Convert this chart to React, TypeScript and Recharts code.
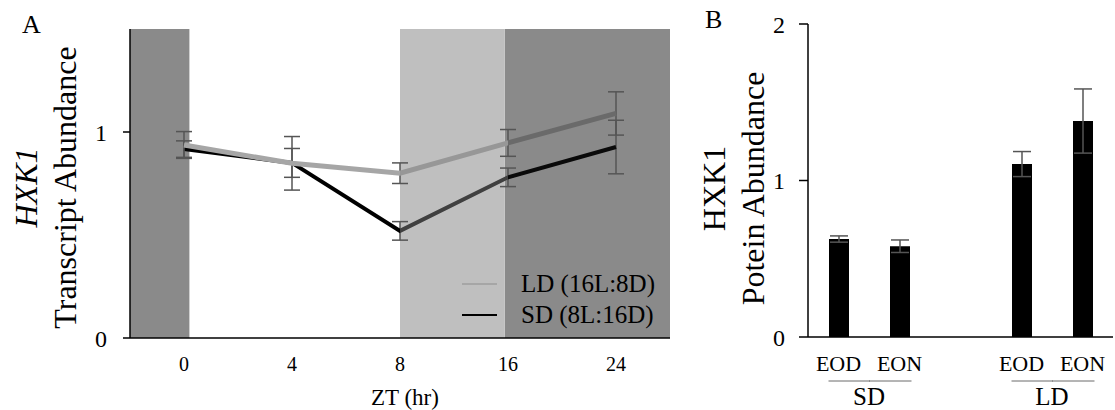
import React from "react";
import {
  LineChart,
  Line,
  XAxis,
  YAxis,
  ReferenceArea,
  ErrorBar,
  Legend,
  BarChart,
  Bar,
} from "recharts";

// ---------- Panel A data ----------
const ztLabels = ["0", "4", "8", "16", "24"];
const ldValues = [0.937, 0.848, 0.8, 0.947, 1.09];
const ldErrors = [0.065, 0.13, 0.05, 0.065, 0.105];
const sdValues = [0.917, 0.85, 0.52, 0.78, 0.927];
const sdErrors = [0.04, 0.07, 0.045, 0.045, 0.13];
const seriesNames = ["LD (16L:8D)", "SD (8L:16D)"];
// light/dark periods behind the curves (in ZT index units)
const darkPeriods = [
  [-0.5, 0.05],
  [2.97, 4.5],
];
const dimPeriods = [[2, 2.97]];

// ---------- Panel B data ----------
const barLabels = ["EOD", "EON", "", "EOD", "EON"];
const barValues = [0.626, 0.58, null, 1.105, 1.38];
const barErrors = [0.02, 0.04, null, 0.08, 0.205];
const groupLabels = ["SD", "LD"];
const groupStarts = [0, 3];

const FONT = "'Liberation Serif', 'Times New Roman', serif";

const lineData = ztLabels.map((label, i) => ({
  idx: i,
  label,
  ld: ldValues[i],
  ldErr: ldErrors[i],
  sd: sdValues[i],
  sdErr: sdErrors[i],
}));

const barData = barLabels.map((label, i) => ({
  key: i,
  label,
  value: barValues[i],
  err: barErrors[i],
}));

const YLabelA = (props: any) => {
  const vb = props.viewBox || { y: 29, height: 309 };
  const cy = vb.y + vb.height / 2 + 4;
  return (
    <g style={{ fontFamily: FONT }}>
      <text x={22} y={33} fontSize={26} fill="#000">
        A
      </text>
      <text
        transform={`translate(37, ${cy}) rotate(-90)`}
        textAnchor="middle"
        fontSize={32}
        fontStyle="italic"
        fill="#000"
      >
        HXK1
      </text>
      <text
        transform={`translate(76, ${cy}) rotate(-90)`}
        textAnchor="middle"
        fontSize={32}
        fill="#000"
      >
        Transcript Abundance
      </text>
    </g>
  );
};

const XLabelA = (props: any) => {
  const vb = props.viewBox || { x: 130, width: 540, y: 338 };
  return (
    <text
      x={vb.x + vb.width / 2 + 5}
      y={405}
      textAnchor="middle"
      fontSize={23}
      fill="#000"
      style={{ fontFamily: FONT }}
    >
      ZT (hr)
    </text>
  );
};

const YLabelB = (props: any) => {
  const vb = props.viewBox || { y: 24, height: 313 };
  const cy = vb.y + vb.height / 2 + 8;
  return (
    <g style={{ fontFamily: FONT }}>
      <text x={25} y={28} fontSize={26} fill="#000">
        B
      </text>
      <text
        transform={`translate(45, ${cy}) rotate(-90)`}
        textAnchor="middle"
        fontSize={32}
        fill="#000"
      >
        HXK1
      </text>
      <text
        transform={`translate(84, ${cy}) rotate(-90)`}
        textAnchor="middle"
        fontSize={32}
        fill="#000"
      >
        Potein Abundance
      </text>
    </g>
  );
};

const BarTick = (props: any) => {
  const { x, y, payload } = props;
  const i = Number(payload.value);
  const half = payload.offset && payload.offset > 0 ? payload.offset : 30.5;
  const label = barLabels[i];
  const g = groupStarts.indexOf(i);
  const g2 = groupStarts.indexOf(i - 1);
  return (
    <g style={{ fontFamily: FONT }}>
      {label ? (
        <text x={x} y={y + 34} textAnchor="middle" fontSize={22} fill="#000">
          {label}
        </text>
      ) : null}
      {g >= 0 ? (
        <g>
          <line x1={x - 10} x2={x + half + 1} y1={y + 44} y2={y + 44} stroke="#6b6b6b" strokeWidth={1} />
          <text x={x + half} y={y + 68} textAnchor="middle" fontSize={25} fill="#000">
            {groupLabels[g]}
          </text>
        </g>
      ) : null}
      {g2 >= 0 ? (
        <line x1={x - half} x2={x + 12} y1={y + 44} y2={y + 44} stroke="#6b6b6b" strokeWidth={1} />
      ) : null}
    </g>
  );
};

const LegendA = () => {
  const colors = ["#a6a6a6", "#000000"];
  return (
    <div style={{ fontFamily: FONT, fontSize: 25, color: "#000", lineHeight: "31px" }}>
      {seriesNames.map((n, i) => (
        <div key={n} style={{ display: "flex", alignItems: "center", height: 31 }}>
          <span
            style={{
              display: "inline-block",
              width: 35,
              height: 2,
              background: colors[i],
              marginRight: 24,
            }}
          />
          <span>{n}</span>
        </div>
      ))}
    </div>
  );
};

const tickStyle = { fontFamily: FONT, fontSize: 24, fill: "#000" };

export default function App() {
  return (
    <div style={{ position: "absolute", left: 0, top: 0, width: 1115, height: 410, background: "#fff" }}>
      <div style={{ position: "absolute", left: 0, top: 0 }}>
        <LineChart width={680} height={410} data={lineData} margin={{ top: 29, right: 10, bottom: 0, left: 0 }}>
          <defs>
            <linearGradient id="ldGrad" x1="0" y1="0" x2="1" y2="0">
              <stop offset="0%" stopColor="#a6a6a6" />
              <stop offset="50%" stopColor="#a6a6a6" />
              <stop offset="50%" stopColor="#979797" />
              <stop offset="75%" stopColor="#979797" />
              <stop offset="75%" stopColor="#6a6a6a" />
              <stop offset="100%" stopColor="#6a6a6a" />
            </linearGradient>
            <linearGradient id="sdGrad" x1="0" y1="0" x2="1" y2="0">
              <stop offset="0%" stopColor="#000" />
              <stop offset="50%" stopColor="#000" />
              <stop offset="50%" stopColor="#404040" />
              <stop offset="75%" stopColor="#404040" />
              <stop offset="75%" stopColor="#0a0a0a" />
              <stop offset="100%" stopColor="#0a0a0a" />
            </linearGradient>
          </defs>
          {darkPeriods.map((p, i) => (
            <ReferenceArea key={"d" + i} x1={p[0]} x2={p[1]} y1={0} y2={1.5} fill="#8a8a8a" fillOpacity={1} stroke="none" />
          ))}
          {dimPeriods.map((p, i) => (
            <ReferenceArea key={"l" + i} x1={p[0]} x2={p[1]} y1={0} y2={1.5} fill="#bfbfbf" fillOpacity={1} stroke="none" />
          ))}
          <XAxis
            dataKey="idx"
            type="number"
            domain={[-0.5, 4.5]}
            ticks={[0, 1, 2, 3, 4]}
            tickFormatter={(v: number) => ztLabels[v]}
            tickLine={false}
            tickSize={0}
            tickMargin={19}
            height={72}
            axisLine={{ stroke: "#000", strokeWidth: 1.5 }}
            tick={{ fontFamily: FONT, fontSize: 20, fill: "#000" }}
            label={(p: any) => <XLabelA {...p} />}
          />
          <XAxis xAxisId="top" orientation="top" dataKey="idx" type="number" domain={[-0.5, 4.5]} height={0} tick={false} tickLine={false} axisLine={{ stroke: "#000", strokeWidth: 1 }} />
          <YAxis
            domain={[0, 1.5]}
            ticks={[0, 1]}
            width={130}
            tickSize={7}
            tickMargin={16}
            tickLine={{ stroke: "#000", strokeWidth: 1.5 }}
            axisLine={{ stroke: "#000", strokeWidth: 1.5 }}
            tick={tickStyle}
            label={(p: any) => <YLabelA {...p} />}
          />
          <YAxis yAxisId="right" orientation="right" domain={[0, 1.5]} width={0} tick={false} tickLine={false} axisLine={{ stroke: "#000", strokeWidth: 1 }} />
          <Line
            dataKey="sd"
            name={seriesNames[1]}
            stroke="url(#sdGrad)"
            strokeWidth={4}
            dot={false}
            isAnimationActive={false}
          >
            <ErrorBar dataKey="sdErr" direction="y" width={8} stroke="#555" strokeWidth={1.5} />
          </Line>
          <Line
            dataKey="ld"
            name={seriesNames[0]}
            stroke="url(#ldGrad)"
            strokeWidth={5}
            dot={false}
            isAnimationActive={false}
          >
            <ErrorBar dataKey="ldErr" direction="y" width={8} stroke="#555" strokeWidth={1.5} />
          </Line>
          <Legend
            layout="vertical"
            verticalAlign="middle"
            align="center"
            content={() => <LegendA />}
            wrapperStyle={{ position: "absolute", left: 462, top: 268, width: 215, height: 62 }}
          />
        </LineChart>
      </div>
      <div style={{ position: "absolute", left: 680, top: 0 }}>
        <BarChart width={435} height={410} data={barData} margin={{ top: 24, right: 2, bottom: 0, left: 0 }} barCategoryGap={0}>
          <XAxis
            dataKey="key"
            type="category"
            tickLine={false}
            tickSize={0}
            tickMargin={0}
            interval={0}
            height={73}
            axisLine={{ stroke: "#000", strokeWidth: 1.5 }}
            tick={(p: any) => <BarTick {...p} />}
          />
          <XAxis xAxisId="top" orientation="top" dataKey="key" height={0} tick={false} tickLine={false} axisLine={{ stroke: "#000", strokeWidth: 1.5 }} />
          <YAxis
            domain={[0, 2]}
            ticks={[0, 1, 2]}
            width={128}
            tickSize={9}
            tickMargin={14}
            tickLine={{ stroke: "#000", strokeWidth: 1.5 }}
            axisLine={{ stroke: "#000", strokeWidth: 1.5 }}
            tick={tickStyle}
            label={(p: any) => <YLabelB {...p} />}
          />
          <YAxis yAxisId="right" orientation="right" domain={[0, 2]} width={0} tick={false} tickLine={false} axisLine={{ stroke: "#000", strokeWidth: 1.5 }} />
          <Bar dataKey="value" fill="#000" barSize={20} isAnimationActive={false}>
            <ErrorBar dataKey="err" direction="y" width={9} stroke="#555" strokeWidth={1.5} />
          </Bar>
        </BarChart>
      </div>
    </div>
  );
}
